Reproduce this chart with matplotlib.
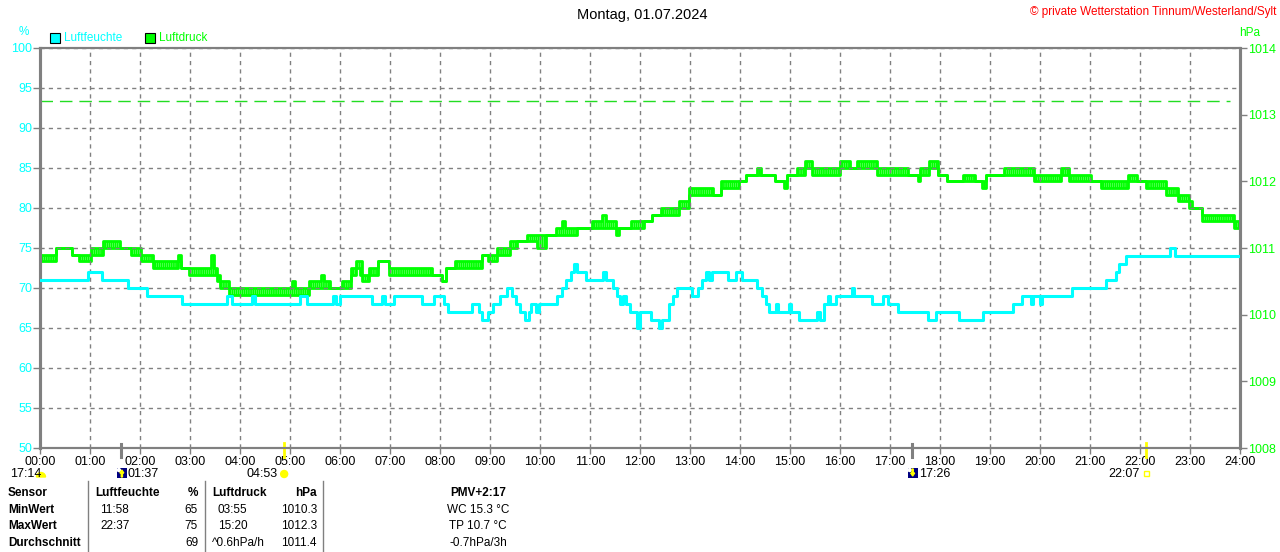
import matplotlib
matplotlib.use("Agg")
import matplotlib.pyplot as plt
from matplotlib.patches import Rectangle, Circle, Wedge, FancyArrow

plt.rcParams['font.family'] = ['Liberation Sans', 'DejaVu Sans']
plt.rcParams['hatch.linewidth'] = 1.3

CYAN = '#00ffff'
GREEN = '#00ff00'
GRAY = '#808080'

# Luftfeuchte (%) - Stufen: Zeitpunkt ab dem der Wert gilt
hum_time = ["00:00", "00:58", "01:14", "01:46", "02:08", "02:50", "03:44", "03:50", "04:14", "04:18",
            "05:12", "05:20", "05:52", "05:55", "06:00", "06:38", "06:50", "06:54", "07:05", "07:38",
            "07:53", "08:05", "08:10", "08:38", "08:47", "08:50", "08:58", "09:04", "09:12", "09:20",
            "09:26", "09:31", "09:36", "09:42", "09:47", "09:49", "09:55", "09:59", "10:20", "10:26",
            "10:31", "10:37", "10:41", "10:44", "10:55", "11:16", "11:19", "11:28", "11:32", "11:36",
            "11:40", "11:43", "11:48", "11:56", "12:00", "12:13", "12:23", "12:26", "12:35", "12:40",
            "12:44", "13:02", "13:10", "13:14", "13:19", "13:23", "13:26", "13:46", "13:55", "14:02",
            "14:20", "14:26", "14:31", "14:35", "14:43", "14:46", "14:59", "15:01", "15:11", "15:32",
            "15:36", "15:41", "15:46", "15:48", "15:55", "16:14", "16:17", "16:38", "16:52", "16:58",
            "17:10", "17:46", "17:55", "18:23", "18:52", "19:28", "19:38", "19:49", "19:52", "20:00",
            "20:02", "20:38", "21:19", "21:31", "21:35", "21:43", "22:36", "22:42", "24:00"]
hum_val = [71, 72, 71, 70, 69, 68, 69, 68, 69, 68,
           69, 68, 69, 68, 69, 68, 69, 68, 69, 68,
           69, 68, 67, 68, 67, 66, 67, 68, 69, 70,
           69, 68, 67, 66, 67, 68, 67, 68, 69, 70,
           71, 72, 73, 72, 71, 72, 71, 70, 69, 68,
           69, 68, 67, 65, 67, 66, 65, 66, 68, 69,
           70, 69, 70, 71, 72, 71, 72, 71, 72, 71,
           70, 69, 68, 67, 68, 67, 68, 67, 66, 67,
           66, 68, 69, 68, 69, 70, 69, 68, 69, 68,
           67, 66, 67, 66, 67, 68, 69, 68, 69, 68,
           69, 70, 71, 72, 73, 74, 75, 74, 74]

# Luftdruck (hPa) - Stufen mit Flackern zwischen unterem und oberem Wert
press_time = ["00:00", "00:19", "00:38", "00:47", "01:01", "01:16", "01:36", "01:49", "02:01", "02:16",
              "02:46", "02:49", "02:59", "03:25", "03:29", "03:32", "03:36", "03:47", "05:02", "05:06",
              "05:23", "05:37", "05:41", "05:48", "06:02", "06:13", "06:19", "06:24", "06:26", "06:35",
              "06:46", "06:59", "07:50", "08:02", "08:07", "08:18", "08:50", "08:58", "09:08", "09:24",
              "09:32", "09:44", "09:56", "10:07", "10:19", "10:26", "10:30", "10:44", "11:02", "11:14",
              "11:19", "11:31", "11:35", "11:49", "12:05", "12:14", "12:25", "12:47", "12:59", "13:28",
              "13:37", "13:59", "14:07", "14:20", "14:25", "14:42", "14:53", "14:56", "15:08", "15:18",
              "15:26", "16:00", "16:12", "16:20", "16:44", "17:22", "17:34", "17:36", "17:47", "17:58",
              "18:08", "18:28", "18:42", "18:50", "18:55", "19:17", "19:53", "20:25", "20:35", "21:01",
              "21:13", "21:46", "21:56", "22:07", "22:31", "22:46", "22:59", "23:02", "23:14", "23:53",
              "24:00"]
press_lo = [1010.8, 1011.0, 1010.9, 1010.8, 1010.9, 1011.0, 1011.0, 1010.9, 1010.8, 1010.7,
            1010.8, 1010.7, 1010.6, 1010.6, 1010.6, 1010.5, 1010.4, 1010.3, 1010.3, 1010.3,
            1010.4, 1010.4, 1010.4, 1010.4, 1010.4, 1010.6, 1010.7, 1010.6, 1010.5, 1010.6,
            1010.8, 1010.6, 1010.6, 1010.5, 1010.7, 1010.7, 1010.9, 1010.8, 1010.9, 1011.0,
            1011.1, 1011.1, 1011.0, 1011.2, 1011.2, 1011.2, 1011.2, 1011.3, 1011.3, 1011.3,
            1011.3, 1011.2, 1011.3, 1011.3, 1011.4, 1011.5, 1011.5, 1011.6, 1011.8, 1011.8,
            1011.9, 1012.0, 1012.1, 1012.1, 1012.1, 1012.0, 1011.9, 1012.1, 1012.1, 1012.2,
            1012.1, 1012.2, 1012.2, 1012.2, 1012.1, 1012.1, 1012.0, 1012.1, 1012.2, 1012.1,
            1012.0, 1012.0, 1012.0, 1011.9, 1012.1, 1012.1, 1012.0, 1012.1, 1012.0, 1012.0,
            1011.9, 1012.0, 1012.0, 1011.9, 1011.8, 1011.7, 1011.6, 1011.6, 1011.4, 1011.3,
            1011.3]
press_hi = [1010.9, 1011.0, 1010.9, 1010.9, 1011.0, 1011.1, 1011.0, 1011.0, 1010.9, 1010.8,
            1010.9, 1010.7, 1010.7, 1010.9, 1010.7, 1010.6, 1010.5, 1010.4, 1010.5, 1010.4,
            1010.5, 1010.6, 1010.5, 1010.4, 1010.5, 1010.7, 1010.8, 1010.8, 1010.6, 1010.7,
            1010.8, 1010.7, 1010.6, 1010.5, 1010.7, 1010.8, 1010.9, 1010.9, 1011.0, 1011.1,
            1011.1, 1011.2, 1011.2, 1011.2, 1011.3, 1011.4, 1011.3, 1011.3, 1011.4, 1011.5,
            1011.4, 1011.3, 1011.3, 1011.4, 1011.4, 1011.5, 1011.6, 1011.7, 1011.9, 1011.8,
            1012.0, 1012.0, 1012.1, 1012.2, 1012.1, 1012.0, 1012.0, 1012.1, 1012.2, 1012.3,
            1012.2, 1012.3, 1012.2, 1012.3, 1012.2, 1012.1, 1012.1, 1012.2, 1012.3, 1012.1,
            1012.0, 1012.1, 1012.0, 1012.0, 1012.1, 1012.2, 1012.1, 1012.2, 1012.1, 1012.0,
            1012.0, 1012.1, 1012.0, 1012.0, 1011.9, 1011.8, 1011.7, 1011.6, 1011.5, 1011.4,
            1011.4]

ref_pressure = 1013.2

x_labels = [f"{h:02d}:00" for h in range(25)]
hum_ticks = [50, 55, 60, 65, 70, 75, 80, 85, 90, 95, 100]
press_ticks = [1008, 1009, 1010, 1011, 1012, 1013, 1014]

moon_rise, sun_rise, moon_set, sun_set = "01:37", "04:53", "17:26", "22:07"
day_len = "17:14"

table_head = ["Sensor", "Luftfeuchte", "%", "Luftdruck", "hPa", "PMV+2:17"]
table_rows = [
    ["MinWert", "11:58", "65", "03:55", "1010.3", "WC 15.3 °C"],
    ["MaxWert", "22:37", "75", "15:20", "1012.3", "TP 10.7 °C"],
    ["Durchschnitt", "", "69", "^0.6hPa/h", "1011.4", "-0.7hPa/3h"],
]


def hours(s):
    h, m = s.split(":")
    return int(h) + int(m) / 60


W, H = 1280, 552
fig = plt.figure(figsize=(W / 100, H / 100), dpi=100)
ax = fig.add_axes([40 / W, 104 / H, 1200 / W, 400 / H])
ax2 = ax.twinx()

ht = [hours(t) for t in hum_time]
pt = [hours(t) for t in press_time]

ax.set_xlim(0, 24)
ax.set_ylim(50, 100)
ax2.set_ylim(1008, 1014)

# Gitter
ax.set_xticks(range(25))
ax.set_xticklabels(x_labels)
ax.set_yticks(hum_ticks)
ax.set_yticklabels([str(v) for v in hum_ticks])
ax2.set_yticks(press_ticks)
ax2.set_yticklabels([str(v) for v in press_ticks])
ax.grid(True, color=GRAY, linestyle=(0, (3, 3)), linewidth=1)
ax.set_axisbelow(True)

ax.tick_params(axis='x', direction='out', length=4, width=1, color=GRAY,
               labelsize=9, labelcolor='black', pad=2)
ax.tick_params(axis='y', direction='out', length=5, width=1, color=GRAY,
               labelsize=9, labelcolor=CYAN, pad=0.5)
ax2.tick_params(axis='y', direction='out', length=5, width=1, color=GRAY,
                labelsize=9, labelcolor=GREEN, pad=0.5)

for a in (ax, ax2):
    for side in ('left', 'right'):
        a.spines[side].set_color(GRAY)
        a.spines[side].set_linewidth(2.2)
    for side in ('top', 'bottom'):
        a.spines[side].set_color(GRAY)
        a.spines[side].set_linewidth(1.5)

# Kurven
ax2.axhline(ref_pressure, xmax=0.992, color='#22dd22', linestyle=(0, (9, 5)), linewidth=1)
# Flackerband als dichte senkrechte Striche
ax2.fill_between(pt, press_lo, press_hi, step='post', facecolor='none', edgecolor=GREEN,
                 hatch='||||||||', linewidth=0)
ax2.plot(pt, press_lo, drawstyle='steps-post', color=GREEN, linewidth=2.0)
ax2.plot(pt, press_hi, drawstyle='steps-post', color=GREEN, linewidth=2.0)
ax.plot(ht, hum_val, drawstyle='steps-post', color=CYAN, linewidth=2.2, zorder=3)
ax.set_zorder(ax2.get_zorder() + 1)
ax.patch.set_visible(False)

# Mond / Sonne Markierungen an der Achse
for t in (moon_rise, moon_set):
    ax.axvline(hours(t), ymin=-0.023, ymax=0.011, color=GRAY, linewidth=2.2, clip_on=False)
for t in (sun_rise, sun_set):
    ax.axvline(hours(t), ymin=-0.023, ymax=0.013, color='#ffff00', linewidth=2, clip_on=False)

# Overlay in Pixelkoordinaten
ov = fig.add_axes([0, 0, 1, 1])
ov.set_xlim(0, W)
ov.set_ylim(H, 0)
ov.axis('off')
ov.patch.set_alpha(0)


def px(t):
    return 40 + 1200 * hours(t) / 24


ov.text(642, 15, "Montag, 01.07.2024", ha='center', va='center', fontsize=10.5)
ov.text(1276, 12, "© private Wetterstation Tinnum/Westerland/Sylt", ha='right', va='center',
        fontsize=8.5, color='red')
ov.text(24, 32, "%", ha='center', va='center', fontsize=8.5, color=CYAN)
ov.text(1250, 33, "hPa", ha='center', va='center', fontsize=8.5, color=GREEN)

ov.add_patch(Rectangle((50, 33), 10, 10, facecolor=CYAN, edgecolor='black', linewidth=0.8))
ov.text(64, 38, "Luftfeuchte", ha='left', va='center', fontsize=8.5, color=CYAN)
ov.add_patch(Rectangle((145, 33), 10, 10, facecolor=GREEN, edgecolor='black', linewidth=0.8))
ov.text(159, 38, "Luftdruck", ha='left', va='center', fontsize=8.5, color=GREEN)

# Zeile mit Auf-/Untergangszeiten
ov.text(10, 474, day_len, ha='left', va='center', fontsize=9)
ov.add_patch(Wedge((41, 477), 4.5, 180, 360, color='#ffff00'))

for t, up in ((moon_rise, True), (moon_set, False)):
    x0 = px(t) - 4
    ov.add_patch(Rectangle((x0, 468), 10, 10, facecolor='#000080', edgecolor='none'))
    ov.add_patch(Circle((x0 + 2, 470), 1.5, color='white'))
    if up:
        ov.add_patch(FancyArrow(x0 + 5, 477, 0, -7, width=1.2, head_width=4, head_length=3,
                                color='#ffff00', length_includes_head=True))
    else:
        ov.add_patch(FancyArrow(x0 + 5, 469, 0, 7, width=1.2, head_width=4, head_length=3,
                                color='#ffff00', length_includes_head=True))
    ov.text(x0 + 11, 474, t, ha='left', va='center', fontsize=9)

ov.text(px(sun_rise) - 7, 474, sun_rise, ha='right', va='center', fontsize=9)
ov.add_patch(Circle((px(sun_rise), 474), 3.5, color='#ffff00'))
ov.text(px(sun_set) - 6, 474, sun_set, ha='right', va='center', fontsize=9)
ov.add_patch(Rectangle((px(sun_set) - 2, 471), 5, 5, facecolor='none', edgecolor='#ffff00', linewidth=1))

# Tabelle
for xl in (88, 205, 323):
    ov.plot([xl, xl], [481, 552], color=GRAY, linewidth=1)

row_y = [493, 510, 526, 543]
ov.text(8, row_y[0], table_head[0], ha='left', va='center', fontsize=8.5, weight='bold')
ov.text(95, row_y[0], table_head[1], ha='left', va='center', fontsize=8.5, weight='bold')
ov.text(198, row_y[0], table_head[2], ha='right', va='center', fontsize=8.5, weight='bold')
ov.text(212, row_y[0], table_head[3], ha='left', va='center', fontsize=8.5, weight='bold')
ov.text(317, row_y[0], table_head[4], ha='right', va='center', fontsize=8.5, weight='bold')
ov.text(478, row_y[0], table_head[5], ha='center', va='center', fontsize=8.5, weight='bold')

for row, y in zip(table_rows, row_y[1:]):
    ov.text(8, y, row[0], ha='left', va='center', fontsize=8.5, weight='bold')
    ov.text(100, y, row[1], ha='left', va='center', fontsize=8.5)
    ov.text(198, y, row[2], ha='right', va='center', fontsize=8.5)
    ov.text(212 if row[3].startswith('^') else 218, y, row[3], ha='left', va='center', fontsize=8.5)
    ov.text(317, y, row[4], ha='right', va='center', fontsize=8.5)
    ov.text(478, y, row[5], ha='center', va='center', fontsize=8.5)

fig.savefig("out.png", dpi=100)
